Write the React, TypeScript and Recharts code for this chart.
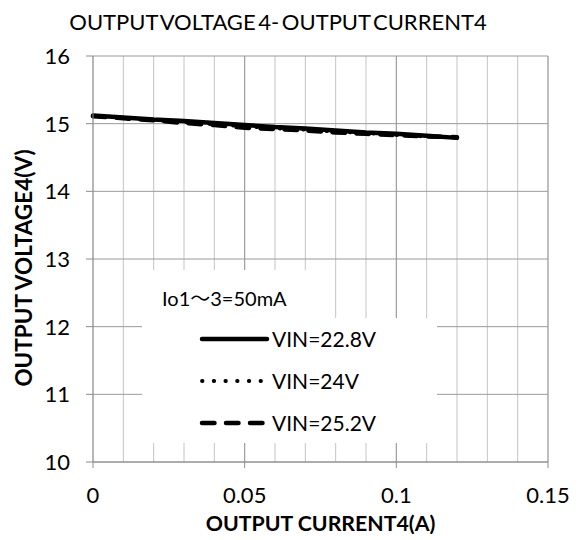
import React from 'react';
import { LineChart, Line, XAxis, YAxis, CartesianGrid, ReferenceLine, Legend } from 'recharts';

// output current (A) and output voltage 4 (V) for each input voltage
const currents = [0, 0.01, 0.02, 0.03, 0.04, 0.05, 0.06, 0.07, 0.08, 0.09, 0.1, 0.11, 0.12];
const vin228 = [15.12, 15.09, 15.06, 15.04, 15.01, 14.98, 14.95, 14.93, 14.9, 14.87, 14.85, 14.82, 14.79];
const vin24 = [15.11, 15.08, 15.05, 15.02, 14.99, 14.96, 14.93, 14.91, 14.88, 14.86, 14.83, 14.81, 14.8];
const vin252 = [15.11, 15.08, 15.05, 15.01, 14.98, 14.94, 14.92, 14.9, 14.87, 14.85, 14.83, 14.81, 14.8];

const xTicks = [0, 0.01, 0.02, 0.03, 0.04, 0.05, 0.06, 0.07, 0.08, 0.09, 0.1, 0.11, 0.12, 0.13, 0.14, 0.15];
const xMajor = [0, 0.05, 0.1, 0.15];
const xTickLabels = ['0', '0.05', '0.1', '0.15'];
const yTicks = [10, 11, 12, 13, 14, 15, 16];

const series = [
  { key: 'v228', name: 'VIN=22.8V', dash: undefined, width: 4.5 },
  { key: 'v24', name: 'VIN=24V', dash: '0.5 11.2', width: 3.8 },
  { key: 'v252', name: 'VIN=25.2V', dash: '12.5 11.5', width: 4.5 },
];

const data = currents.map((x, i) => ({ x, v228: vin228[i], v24: vin24[i], v252: vin252[i] }));

const font = "Lato, 'Noto Sans CJK JP', sans-serif";
const axisGray = '#8c8c8c';

const XTick = (props: any) => {
  const { x, y, payload } = props;
  const idx = xMajor.indexOf(payload.value);
  if (idx < 0) return null;
  return (
    <g>
      <line x1={x} x2={x} y1={y} y2={y + 6} stroke={axisGray} />
      <text x={x} y={y + 41} textAnchor="middle" fontSize={22} fill="#000" fontFamily={font}>
        {xTickLabels[idx]}
      </text>
    </g>
  );
};

const YTick = (props: any) => {
  const { x, y, payload } = props;
  return (
    <g>
      <line x1={x - 7} x2={x} y1={y} y2={y} stroke={axisGray} />
      <text x={x - 23} y={y} dy="0.36em" textAnchor="end" fontSize={22} fill="#000" fontFamily={font}>
        {payload.value}
      </text>
    </g>
  );
};

const YLabel = (props: any) => {
  const { viewBox } = props;
  const cx = 24;
  const cy = viewBox.y + viewBox.height / 2 + 9;
  return (
    <text x={cx} y={cy} dy="0.36em" transform={`rotate(-90, ${cx}, ${cy})`} textAnchor="middle"
      fontSize={22.5} fontWeight="bold" fill="#000" fontFamily={font}>
      OUTPUT VOLTAGE4(V)
    </text>
  );
};

const LegendBox = () => (
  <div style={{ position: 'relative', width: 297, height: 173, fontFamily: font, color: '#000' }}>
    <div style={{ position: 'absolute', left: 0, top: 0, width: 190, height: 48, background: '#fff' }}>
      <div style={{ position: 'absolute', left: 22, top: 16, height: 24, lineHeight: '24px', fontSize: 20, whiteSpace: 'nowrap' }}>
        Io1～3=50mA
      </div>
    </div>
    <div style={{ position: 'absolute', left: 2, top: 48, width: 295, height: 125, background: '#fff' }}>
      {series.map((s, i) => (
        <div key={s.key} style={{ position: 'absolute', left: 0, top: 21 + i * 42 - 12, height: 24, width: 295 }}>
          <svg width={75} height={24} style={{ position: 'absolute', left: 55, top: 0 }}>
            <line x1={5} x2={70} y1={12} y2={12} stroke="#000" strokeWidth={s.width}
              strokeDasharray={s.dash} strokeLinecap="round" />
          </svg>
          <div style={{ position: 'absolute', left: 130, top: 0, lineHeight: '24px', fontSize: 21, whiteSpace: 'nowrap' }}>
            {s.name}
          </div>
        </div>
      ))}
    </div>
  </div>
);

export default function App() {
  return (
    <div style={{ position: 'absolute', left: 0, top: 0, width: 579, height: 540, background: '#fff', fontFamily: font }}>
      <div style={{ position: 'absolute', left: 0, top: 11, width: 556, textAlign: 'center', fontSize: 22, lineHeight: '22px', wordSpacing: -3, color: '#000' }}>
        OUTPUT VOLTAGE 4- OUTPUT CURRENT4
      </div>
      <LineChart width={579} height={540} data={data} margin={{ top: 56, right: 31, bottom: 0, left: 0 }}>
        <CartesianGrid stroke="#c4c4c4" horizontal={false} />
        <CartesianGrid stroke="#9a9a9a" vertical={false} />
        {xMajor.slice(1).map((v) => (
          <ReferenceLine key={v} x={v} stroke="#9a9a9a" />
        ))}
        <XAxis
          dataKey="x"
          type="number"
          domain={[0, 0.15]}
          ticks={xTicks}
          interval={0}
          height={78}
          tickSize={0}
          tickMargin={0}
          tickLine={false}
          stroke={axisGray}
          tick={<XTick />}
          label={{ value: 'OUTPUT CURRENT4(A)', position: 'insideBottom', offset: 9, fontSize: 21.3, fontWeight: 'bold', fill: '#000', fontFamily: font }}
        />
        <YAxis
          type="number"
          domain={[10, 16]}
          ticks={yTicks}
          interval={0}
          width={93}
          tickSize={0}
          tickMargin={0}
          tickLine={false}
          stroke={axisGray}
          tick={<YTick />}
          label={<YLabel />}
        />
        {series.map((s) => (
          <Line
            key={s.key}
            dataKey={s.key}
            name={s.name}
            type="linear"
            stroke="#000"
            strokeWidth={s.width}
            strokeDasharray={s.dash}
            strokeLinecap="round"
            dot={false}
            isAnimationActive={false}
          />
        ))}
        <Legend
          layout="vertical"
          align="center"
          verticalAlign="middle"
          content={<LegendBox />}
          wrapperStyle={{ left: 140, top: 270, width: 297, height: 173 }}
        />
      </LineChart>
    </div>
  );
}
